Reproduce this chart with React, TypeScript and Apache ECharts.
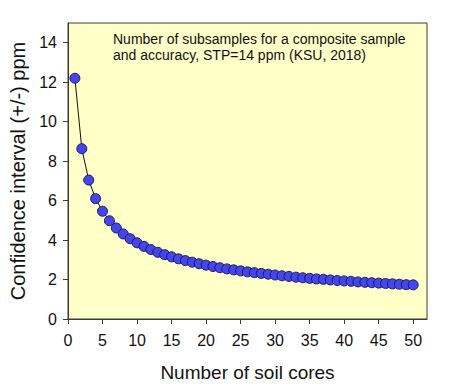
import React, { useEffect, useRef } from "react";
import * as echarts from "echarts";

const cores: number[] = Array.from({ length: 50 }, (_, i) => i + 1);
const confidence: number[] = [
  12.2, 8.63, 7.04, 6.1, 5.46, 4.98, 4.61, 4.31, 4.07, 3.86,
  3.68, 3.52, 3.38, 3.26, 3.15, 3.05, 2.96, 2.88, 2.8, 2.73,
  2.66, 2.6, 2.54, 2.49, 2.44, 2.39, 2.35, 2.31, 2.27, 2.23,
  2.19, 2.16, 2.12, 2.09, 2.06, 2.03, 2.01, 1.98, 1.95, 1.93,
  1.91, 1.88, 1.86, 1.84, 1.82, 1.8, 1.78, 1.76, 1.74, 1.73,
];
const xTicks: number[] = [0, 5, 10, 15, 20, 25, 30, 35, 40, 45, 50];
const yTicks: number[] = [0, 2, 4, 6, 8, 10, 12, 14];
const titleLines: string[] = [
  "Number of subsamples for a composite sample",
  "and accuracy, STP=14 ppm (KSU, 2018)",
];
const xName = "Number of soil cores";
const yName = "Confidence interval (+/-) ppm";

export default function App() {
  const ref = useRef<HTMLDivElement>(null);
  useEffect(() => {
    if (!ref.current) return;
    const chart = echarts.init(ref.current, null, { renderer: "svg" });
    const font = "Arial, 'Liberation Sans', sans-serif";
    chart.setOption({
      animation: false,
      grid: {
        left: 64,
        right: 23,
        top: 23,
        bottom: 65,
        show: true,
        backgroundColor: "#FFFFC8",
        borderColor: "#3a3a3a",
        borderWidth: 1,
      },
      graphic: [
        {
          type: "text",
          left: 113,
          top: 31,
          style: {
            text: titleLines.join("\n"),
            font: `14px ${font}`,
            fill: "#111",
            lineHeight: 16,
          },
        },
      ],
      xAxis: {
        type: "value",
        min: 0,
        max: 52,
        interval: 5,
        name: xName,
        nameLocation: "middle",
        nameGap: 44,
        nameTextStyle: { fontFamily: font, fontSize: 19, color: "#111" },
        axisLine: { show: true, lineStyle: { color: "#3a3a3a" } },
        axisTick: { show: true, length: 5, customValues: xTicks, lineStyle: { color: "#3a3a3a" } },
        axisLabel: { customValues: xTicks, fontFamily: font, fontSize: 16, color: "#111", margin: 13 },
        splitLine: { show: false },
      },
      yAxis: {
        type: "value",
        min: 0,
        max: 15,
        interval: 2,
        name: yName,
        nameLocation: "middle",
        nameGap: 40,
        nameTextStyle: { fontFamily: font, fontSize: 20, color: "#111" },
        axisLine: { show: true, lineStyle: { color: "#3a3a3a" } },
        axisTick: { show: true, length: 5, customValues: yTicks, lineStyle: { color: "#3a3a3a" } },
        axisLabel: { customValues: yTicks, fontFamily: font, fontSize: 16, color: "#111", margin: 11 },
        splitLine: { show: false },
      },
      series: [
        {
          type: "line",
          data: cores.map((c, i) => [c, confidence[i]]),
          symbol: "circle",
          symbolSize: 10,
          lineStyle: { color: "#111", width: 1 },
          itemStyle: { color: "#4545EE", borderColor: "#1a1a5a", borderWidth: 1 },
        },
      ],
    });
    return () => chart.dispose();
  }, []);
  return <div ref={ref} style={{ width: 450, height: 387, position: "absolute", left: 0, top: 0 }} />;
}
